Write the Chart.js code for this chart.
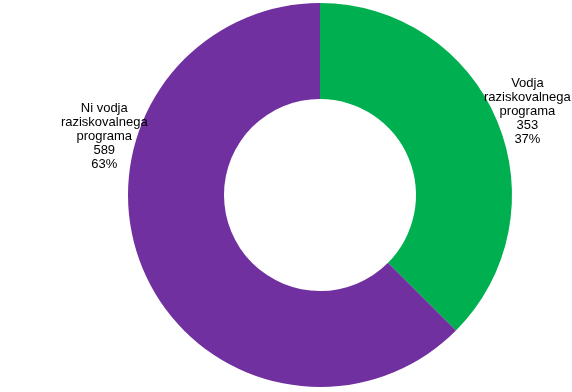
<!DOCTYPE html>
<html>
<head>
<meta charset="utf-8">
<script src="https://cdn.jsdelivr.net/npm/chart.js@4"></script>
<style>
  html, body { margin: 0; padding: 0; background: #fff; }
  #wrap { width: 572px; height: 392px; }
</style>
</head>
<body>
<div id="wrap"><canvas id="chart"></canvas></div>
<script>
// ----- DATA -----
const categories = ['Vodja raziskovalnega programa', 'Ni vodja raziskovalnega programa'];
const labelLines = [
    ['Vodja', 'raziskovalnega', 'programa'],
    ['Ni vodja', 'raziskovalnega', 'programa']
];
const counts = [353, 589];
const colors = ['#00B050', '#7030A0'];

// label placement: angle (deg, canvas coords) and distance as a factor of outer radius
const labelPlacement = [
    { angle: -22, dist: 1.165 },
    { angle: -164.7, dist: 1.165 }
];

const sliceLabels = {
    id: 'sliceLabels',
    afterDatasetsDraw(chart) {
        const ctx = chart.ctx;
        const meta = chart.getDatasetMeta(0);
        const total = counts.reduce((s, v) => s + v, 0);
        ctx.save();
        ctx.font = '13px "Liberation Sans", Arial, sans-serif';
        ctx.fillStyle = '#000';
        ctx.textAlign = 'center';
        ctx.textBaseline = 'middle';
        meta.data.forEach((arc, i) => {
            const p = labelPlacement[i];
            const a = p.angle * Math.PI / 180;
            const cx = arc.x + Math.cos(a) * arc.outerRadius * p.dist;
            const cy = arc.y + Math.sin(a) * arc.outerRadius * p.dist;
            const lines = [...labelLines[i], String(counts[i]), Math.round(counts[i] / total * 100) + '%'];
            const lh = 14;
            const top = cy - (lines.length - 1) * lh / 2;
            lines.forEach((t, j) => ctx.fillText(t, cx, top + j * lh));
        });
        ctx.restore();
    }
};

new Chart(document.getElementById('chart'), {
    type: 'doughnut',
    data: {
        labels: categories,
        datasets: [{ data: counts, backgroundColor: colors, borderWidth: 0 }]
    },
    options: {
        responsive: true,
        maintainAspectRatio: false,
        animation: false,
        cutout: '50%',
        layout: { padding: { left: 68, right: 0, top: 3, bottom: 5 } },
        plugins: { legend: { display: false }, tooltip: { enabled: false } }
    },
    plugins: [sliceLabels]
});
</script>
</body>
</html>
